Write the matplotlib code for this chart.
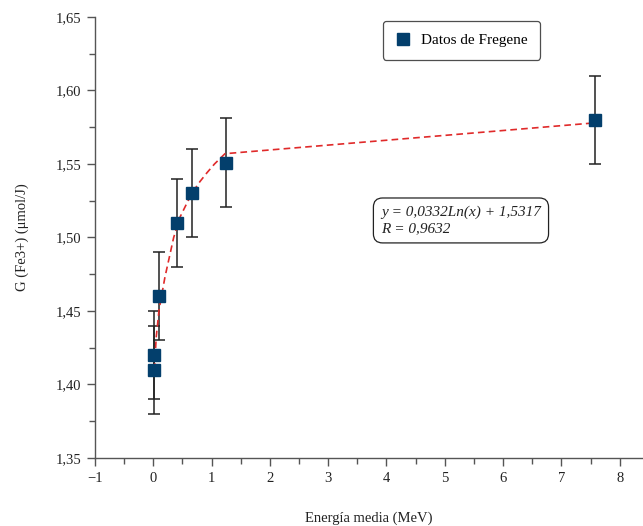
import matplotlib
matplotlib.use("Agg")
import matplotlib.pyplot as plt
from matplotlib.ticker import MultipleLocator, FuncFormatter

# Data (Fregene)
energy = [0.02, 0.02, 0.10, 0.40, 0.67, 1.25, 7.58]
g_val = [1.41, 1.42, 1.46, 1.51, 1.53, 1.551, 1.58]
g_err = [0.03, 0.03, 0.03, 0.03, 0.03, 0.03, 0.03]

# Fitted curve as drawn in the figure
fit_x = [0.02, 0.05, 0.10, 0.20, 0.35, 0.46, 0.66, 0.80, 0.92, 1.05, 1.23, 7.58]
fit_y = [1.410, 1.432, 1.451, 1.473, 1.500, 1.514, 1.530, 1.538, 1.544, 1.550, 1.557, 1.578]

plt.rcParams['font.family'] = ['Liberation Serif', 'DejaVu Serif']

fig = plt.figure(figsize=(6.43, 5.26), dpi=100)
ax = fig.add_axes([0.1477, 0.1293, 0.8523, 0.8384])

blue = '#033f6c'
ax.errorbar(energy, g_val, yerr=g_err, fmt='none', ecolor='#222222',
            elinewidth=1.1, capsize=4, capthick=1.1, zorder=2)
ax.plot(fit_x, fit_y, linestyle=(0, (4, 2.5)), color='#e02a2a', lw=1.2, zorder=3)
ax.plot(energy, g_val, linestyle='none', marker='s', markersize=8,
        color=blue, label='Datos de Fregene', zorder=4)

ax.set_xlim(-1, 8.4)
ax.set_ylim(1.35, 1.65)
ax.xaxis.set_major_locator(MultipleLocator(1))
ax.xaxis.set_minor_locator(MultipleLocator(0.5))
ax.yaxis.set_major_locator(MultipleLocator(0.05))
ax.yaxis.set_minor_locator(MultipleLocator(0.025))
ax.yaxis.set_major_formatter(FuncFormatter(lambda v, p: f"{v:.2f}".replace('.', ',')))
ax.xaxis.set_major_formatter(FuncFormatter(lambda v, p: f"{int(round(v))}".replace('-', '\u2212')))

for s in ['top', 'right']:
    ax.spines[s].set_visible(False)
for s in ['left', 'bottom']:
    ax.spines[s].set_color('#555555')
    ax.spines[s].set_linewidth(1.0)
ax.tick_params(which='major', direction='out', length=6, width=1, color='#555555',
               labelsize=10.5, labelcolor='#222222', pad=4)
ax.tick_params(which='minor', direction='out', length=4, width=1, color='#555555')

ax.set_xlabel('Energía media (MeV)', fontsize=10.5, color='#222222', labelpad=19)
ax.set_ylabel('G (Fe3+) (μmol/J)', fontsize=10.5, color='#222222', labelpad=19)

leg = ax.legend(loc='upper left', bbox_to_anchor=(0.525, 0.99), fontsize=11,
                frameon=True, fancybox=True, edgecolor='#222222', handletextpad=0.7,
                handlelength=1.0, borderpad=0.8, borderaxespad=0)
leg.get_frame().set_linewidth(0.9)

ax.text(0.522, 0.505, 'y = 0,0332Ln(x) + 1,5317\nR = 0,9632', transform=ax.transAxes,
        fontsize=11, style='italic', color='#222222', va='bottom', ha='left',
        linespacing=1.3,
        bbox=dict(boxstyle='round,pad=0.5,rounding_size=0.6', fc='white',
                  ec='#222222', lw=0.9))

fig.savefig('out.png', dpi=100)
